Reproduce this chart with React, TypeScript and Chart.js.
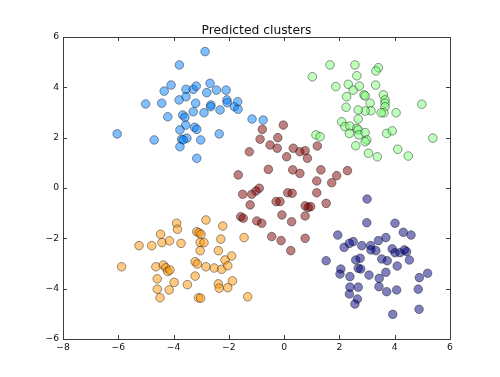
import React, { useEffect, useRef } from "react";
import { Chart, registerables } from "chart.js";

Chart.register(...registerables);

const chartTitle = "Predicted clusters";
const xTicks = [-8, -6, -4, -2, 0, 2, 4, 6];
const yTicks = [-6, -4, -2, 0, 2, 4, 6];

const blueX = [-2.86, -3.79, -4.09, -4.34, -5.01, -4.43, -4.21, -6.04, -4.70, -3.80, -3.55, -3.29, -3.18, -2.68, -2.80, -2.45, -2.10, -3.55, -3.20, -2.65, -2.66, -3.29, -2.90, -2.32, -2.07, -2.06, -1.80, -1.68, -1.67, -3.67, -3.59, -3.56, -3.77, -3.24, -3.16, -3.71, -3.52, -3.65, -3.77, -3.02, -2.35, -3.16, -1.16, -0.76];
const blueY = [5.42, 4.89, 4.09, 3.85, 3.34, 3.37, 2.83, 2.15, 1.91, 3.50, 3.92, 3.92, 4.05, 4.16, 3.79, 3.89, 3.89, 3.63, 3.37, 3.30, 3.23, 3.03, 2.99, 3.10, 3.50, 3.39, 3.23, 3.43, 3.13, 2.90, 2.81, 2.50, 2.31, 2.41, 2.33, 1.94, 1.98, 1.91, 1.64, 1.91, 2.15, 1.18, 2.74, 2.70];

const greenX = [1.02, 1.66, 2.56, 2.63, 3.41, 3.32, 1.87, 2.32, 2.50, 2.72, 3.31, 2.26, 2.89, 2.93, 3.59, 3.65, 3.65, 3.65, 3.61, 3.51, 3.11, 3.14, 2.93, 2.68, 2.24, 4.05, 4.98, 2.68, 2.08, 2.20, 2.38, 2.63, 2.68, 2.36, 2.70, 2.93, 2.99, 2.93, 2.59, 3.05, 3.37, 3.71, 3.91, 4.11, 4.49, 5.38, 1.15, 1.30];
const greenY = [4.42, 4.89, 4.89, 4.46, 4.78, 4.65, 4.03, 4.12, 3.89, 4.05, 4.09, 3.63, 3.70, 3.66, 3.70, 3.50, 3.37, 3.23, 2.99, 2.99, 3.37, 3.07, 3.06, 3.10, 3.21, 2.99, 3.33, 2.74, 2.63, 2.44, 2.46, 2.37, 2.31, 2.17, 2.11, 2.20, 1.91, 1.84, 1.68, 1.38, 1.24, 2.17, 2.27, 1.54, 1.27, 1.98, 2.11, 2.04];

const orangeX = [-3.89, -3.86, -2.83, -2.22, -4.47, -4.42, -4.15, -3.73, -4.79, -5.25, -3.16, -3.08, -3.01, -3.04, -2.90, -3.04, -2.29, -2.38, -1.45, -5.88, -4.64, -4.37, -4.28, -4.21, -4.13, -3.22, -3.14, -2.83, -2.53, -2.26, -2.14, -1.90, -2.04, -4.59, -3.22, -3.98, -3.50, -4.59, -4.16, -2.38, -2.35, -2.04, -1.87, -4.49, -3.10, -3.02, -1.32];
const orangeY = [-1.40, -1.64, -1.27, -1.51, -1.84, -2.17, -2.10, -2.20, -2.29, -2.29, -1.74, -1.78, -1.84, -2.16, -2.17, -2.49, -2.03, -2.49, -1.97, -3.13, -3.13, -3.06, -3.17, -3.32, -3.26, -2.93, -3.02, -3.13, -3.18, -3.23, -2.86, -2.70, -3.09, -3.61, -3.50, -3.75, -3.84, -4.02, -4.05, -3.81, -3.98, -3.96, -3.69, -4.36, -4.36, -4.38, -4.32];

const navyX = [3.00, 2.99, 4.01, 4.31, 4.59, 1.94, 2.50, 2.36, 2.17, 2.81, 3.13, 3.14, 3.32, 3.41, 3.68, 3.91, 4.01, 4.19, 4.35, 4.43, 4.53, 3.53, 3.73, 4.09, 1.52, 2.59, 2.75, 2.68, 2.77, 2.05, 2.02, 2.38, 3.07, 3.44, 3.68, 3.43, 3.71, 4.07, 2.38, 2.68, 2.36, 2.65, 2.56, 4.85, 4.89, 5.19, 4.88, 3.93];
const navyY = [-0.44, -1.38, -1.40, -1.76, -1.87, -1.87, -2.13, -2.20, -2.36, -2.29, -2.29, -2.46, -2.49, -2.09, -1.97, -2.42, -2.57, -2.57, -2.46, -2.53, -2.86, -2.82, -2.89, -3.10, -2.89, -2.86, -2.79, -3.19, -3.22, -3.22, -3.42, -3.52, -3.46, -3.59, -3.35, -3.92, -4.12, -4.05, -3.94, -3.94, -4.21, -4.41, -4.61, -4.02, -3.56, -3.39, -4.82, -5.02];

const redX = [-0.03, -0.79, -0.23, -0.87, -0.51, -0.25, -1.26, 0.33, 0.57, 0.76, 0.09, 0.84, 1.20, -0.57, 0.31, 0.57, 1.33, 1.90, 2.29, 1.72, 1.18, 1.18, 1.52, -1.66, -0.90, -1.02, -1.17, -1.50, -1.23, -0.29, -0.15, 0.13, 0.29, 0.76, 0.87, 0.96, -0.08, 0.76, -1.57, -1.48, -0.99, -0.81, 0.27, -0.45, -0.11, 0.76, 0.24];
const redY = [2.50, 2.33, 2.00, 1.94, 1.71, 1.58, 1.44, 1.58, 1.44, 1.48, 1.24, 1.18, 1.67, 0.74, 0.72, 0.58, 0.72, 0.49, 0.69, 0.21, 0.28, -0.19, -0.61, 0.52, -0.01, -0.12, -0.25, -0.25, -0.67, -0.54, -0.54, -0.19, -0.21, -0.71, -0.77, -0.74, -1.07, -1.11, -1.14, -1.20, -1.31, -1.40, -1.34, -1.93, -2.09, -2.00, -2.49];

const clusterNames = ["cluster 0", "cluster 1", "cluster 2", "cluster 3", "cluster 4"];
const clusterColors = [
  "rgba(0,127,255,0.5)",
  "rgba(125,255,122,0.5)",
  "rgba(255,150,0,0.5)",
  "rgba(0,0,128,0.5)",
  "rgba(128,0,0,0.5)",
];

const toPoints = (xs: number[], ys: number[]) => xs.map((x, i) => ({ x, y: ys[i] }));

const fmt = (v: number) => (v < 0 ? "\u2212" + Math.abs(v) : String(v));

const framePlugin = {
  id: "mplFrame",
  afterDatasetsDraw(chart: any) {
    const { ctx, chartArea } = chart;
    const { left, right, top, bottom } = chartArea;
    const xs = chart.scales.x;
    const ys = chart.scales.y;
    const t = 4;
    ctx.save();
    ctx.strokeStyle = "#3c3c3c";
    ctx.lineWidth = 1;
    ctx.beginPath();
    xTicks.forEach((v) => {
      const p = Math.round(xs.getPixelForValue(v)) + 0.5;
      ctx.moveTo(p, bottom);
      ctx.lineTo(p, bottom - t);
      ctx.moveTo(p, top);
      ctx.lineTo(p, top + t);
    });
    yTicks.forEach((v) => {
      const p = Math.round(ys.getPixelForValue(v)) + 0.5;
      ctx.moveTo(left, p);
      ctx.lineTo(left + t, p);
      ctx.moveTo(right, p);
      ctx.lineTo(right - t, p);
    });
    ctx.stroke();
    ctx.strokeRect(Math.round(left) + 0.5, Math.round(top) + 0.5, Math.round(right - left), Math.round(bottom - top));
    // title centred over the plot area, as matplotlib does
    ctx.fillStyle = "#111";
    ctx.font = "12.3px 'DejaVu Sans'";
    ctx.textAlign = "center";
    ctx.textBaseline = "alphabetic";
    ctx.fillText(chartTitle, (left + right) / 2, 33.5);
    ctx.restore();
  },
};

export default function App() {
  const ref = useRef<HTMLCanvasElement | null>(null);
  useEffect(() => {
    if (!ref.current) return;
    const series = [
      toPoints(blueX, blueY),
      toPoints(greenX, greenY),
      toPoints(orangeX, orangeY),
      toPoints(navyX, navyY),
      toPoints(redX, redY),
    ];
    const chart = new Chart(ref.current, {
      type: "scatter",
      data: {
        datasets: series.map((d, i) => ({
          label: clusterNames[i],
          data: d,
          backgroundColor: clusterColors[i],
          borderColor: "rgba(0,0,0,0.5)",
          borderWidth: 0.8,
          pointRadius: 4.3,
        })),
      },
      options: {
        responsive: false,
        animation: false,
        layout: { padding: { left: 0, right: 50, top: 37, bottom: 0 } },
        plugins: {
          legend: { display: false },
          tooltip: { enabled: false },
          title: { display: false },
        },
        scales: {
          x: {
            type: "linear",
            min: -8,
            max: 6,
            grid: { display: false, drawTicks: false },
            border: { display: false },
            afterFit: (s: any) => { s.height = 38; },
            afterBuildTicks: (s: any) => { s.ticks = xTicks.map((v) => ({ value: v })); },
            ticks: {
              color: "#111",
              padding: 3,
              maxRotation: 0,
              font: { family: "DejaVu Sans", size: 9.2 },
              callback: (v: any) => fmt(Number(v)),
            },
          },
          y: {
            type: "linear",
            min: -6,
            max: 6,
            grid: { display: false, drawTicks: false },
            border: { display: false },
            afterFit: (s: any) => { s.width = 63; },
            afterBuildTicks: (s: any) => { s.ticks = yTicks.map((v) => ({ value: v })); },
            ticks: {
              color: "#111",
              padding: 4,
              font: { family: "DejaVu Sans", size: 9.2 },
              callback: (v: any) => fmt(Number(v)),
            },
          },
        },
      },
      plugins: [framePlugin],
    });
    return () => chart.destroy();
  }, []);
  return (
    <div style={{ position: "absolute", left: 0, top: 0, width: 500, height: 377, background: "#fff" }}>
      <canvas ref={ref} width={500} height={377} style={{ width: 500, height: 377, display: "block" }} />
    </div>
  );
}
